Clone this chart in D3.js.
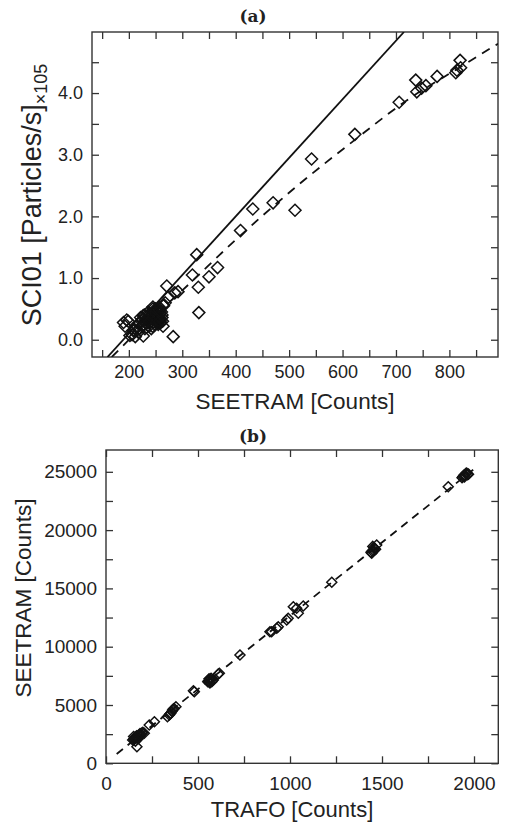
<!DOCTYPE html>
<html><head><meta charset="utf-8">
<script src="https://cdn.jsdelivr.net/npm/d3@7"></script>
<style>
body{margin:0;background:#fff;}
text{font-family:"Liberation Sans Narrow","Arial Narrow","Liberation Sans",sans-serif;fill:#222;}
</style></head><body>
<svg id="c" width="505" height="827"></svg>
<script>
// ---------- Panel (a) data ----------
const seetramA = [542,623,706,737,739,748,756,777,812,814,820,821,
  470,432,511,409,327,366,350,319,330,331,286,283,271,292,274,264,245,
  215,220,225,228,232,235,238,240,243,246,248,250,252,255,257,258,260,262,264,254,245,236,230,222,218,210,206,212,265,268,258,
  224,229,233,237,241,244,247,251,253,256,259,261,263,249,239,231,226,220,244,256,262,250,258,
  196,193,199,202,208,227,242,227,190];
const sci01A = [2.93,3.33,3.85,4.21,4.02,4.08,4.12,4.27,4.33,4.37,4.53,4.41,
  2.22,2.12,2.10,1.77,1.38,1.17,1.02,1.05,0.85,0.44,0.76,0.05,0.87,0.78,0.69,0.56,0.53,
  0.22,0.28,0.33,0.25,0.38,0.30,0.22,0.42,0.35,0.28,0.45,0.38,0.30,0.25,0.33,0.42,0.28,0.36,0.22,0.48,0.50,0.45,0.18,0.36,0.12,0.15,0.08,0.05,0.55,0.60,0.52,
  0.30,0.40,0.27,0.35,0.30,0.40,0.33,0.42,0.35,0.38,0.32,0.45,0.30,0.25,0.27,0.32,0.22,0.18,0.22,0.28,0.40,0.50,0.47,
  0.32,0.22,0.30,0.07,0.15,0.06,0.18,0.39,0.28];
const solidLineA = [[160,-0.28],[715,4.99]];
const dashedCurveA = [[168,-0.28],[230,0.25],[300,0.80],[400,1.62],[520,2.53],[620,3.22],[720,3.88],[820,4.42],[891,4.80]];
const xTicksA = [200,300,400,500,600,700,800];
const xMinorA = [150,250,350,450,550,650,750,850];
const yTicksA = [0,1,2,3,4];
const yMinorA = [0.5,1.5,2.5,3.5,4.5];

// ---------- Panel (b) data ----------
const trafoB = [145,154,160,168,172,181,190,200,208,175,235,263,334,344,352,362,370,380,475,480,553,560,565,571,575,583,610,616,728,891,900,928,936,982,990,1018,1036,1045,1072,1227,1444,1450,1453,1460,1471,1860,1935,1945,1951,1960,1970,
  150,158,163,166,170,178,185,195,160,150,185,
  556,562,568,578,560,
  1447,1456,1465,1440,
  1940,1955,1965,1948,
  348,358,366];
const seetramB = [1998,2144,2250,1424,2300,2427,2500,2650,2572,2100,3284,3568,3999,4142,4300,4571,4700,4854,6226,6141,6998,7100,6900,7290,7000,7144,7658,7718,9288,11286,11286,11578,11715,12289,12435,13430,13293,12864,13490,15523,18010,18600,18293,18400,18722,23721,24500,24700,24725,24900,24800,
  2050,2200,2150,2350,2250,2400,2350,2600,1900,2300,2550,
  7050,6950,7200,7100,7250,
  18200,18500,18350,18100,
  24600,24850,24750,24550,
  4250,4450,4650];
const dashedLineB = [[58,800],[2005,25300]];
const xTicksB = [0,500,1000,1500,2000];
const xMinorB = [250,750,1250,1750];
const yTicksB = [0,5000,10000,15000,20000,25000];
const yMinorB = [2500,7500,12500,17500,22500];

const svg = d3.select("#c");

function panel(cfg){
  const {x, y, id} = cfg;
  const g = svg.append("g");
  const [x0,x1] = x.range(), [y0,y1] = y.range();
  g.append("clipPath").attr("id", id).append("rect")
    .attr("x", x0).attr("y", y1).attr("width", x1-x0).attr("height", y0-y1);
  const allX = cfg.xMajor.concat(cfg.xMinor), allY = cfg.yMajor.concat(cfg.yMinor);
  const majX = new Set(cfg.xMajor), majY = new Set(cfg.yMajor);
  const styleAxis = sel => {
    sel.select(".domain").remove();
    sel.selectAll(".tick line").attr("stroke","#333").attr("stroke-width",1.3);
    sel.selectAll(".tick text").style("font-size", cfg.tickFont+"px").attr("fill","#222");
  };
  g.append("g").attr("transform",`translate(0,${y0})`)
    .call(d3.axisBottom(x).tickValues(allX).tickSize(-7).tickPadding(cfg.xPad)
      .tickFormat(d => majX.has(d) ? cfg.fx(d) : "")).call(styleAxis);
  g.append("g").attr("transform",`translate(0,${y1})`)
    .call(d3.axisTop(x).tickValues(allX).tickSize(-7).tickFormat("")).call(styleAxis);
  g.append("g").attr("transform",`translate(${x0},0)`)
    .call(d3.axisLeft(y).tickValues(allY).tickSize(-7).tickPadding(cfg.yPad)
      .tickFormat(d => majY.has(d) ? cfg.fy(d) : "")).call(styleAxis);
  g.append("g").attr("transform",`translate(${x1},0)`)
    .call(d3.axisRight(y).tickValues(allY).tickSize(-7).tickFormat("")).call(styleAxis);
  g.append("rect").attr("x",x0).attr("y",y1).attr("width",x1-x0).attr("height",y0-y1)
    .attr("fill","none").attr("stroke","#333").attr("stroke-width",1.4);
  const pg = g.append("g").attr("clip-path",`url(#${id})`);
  return pg;
}

function diamonds(pg, x, y, xs, ys, r){
  pg.append("g").selectAll("path").data(xs.map((v,i)=>[v,ys[i]])).join("path")
    .attr("transform", d=>`translate(${x(d[0])},${y(d[1])})`)
    .attr("d", `M0,${-r}L${r},0L0,${r}L${-r},0Z`)
    .attr("fill","none").attr("stroke","#111").attr("stroke-width",1.5);
}

// ---------- Panel (a) ----------
const xA = d3.scaleLinear().domain([131,891]).range([92,498]);
const yA = d3.scaleLinear().domain([-0.28,4.99]).range([357,32]);
const pA = panel({x:xA,y:yA,id:"clipA",xMajor:xTicksA,xMinor:xMinorA,yMajor:yTicksA,yMinor:yMinorA,
  fx:d=>String(d), fy:d3.format(".1f"), tickFont:18, xPad:8, yPad:9});
pA.append("path").datum(solidLineA).attr("d", d3.line().x(d=>xA(d[0])).y(d=>yA(d[1])))
  .attr("fill","none").attr("stroke","#111").attr("stroke-width",1.8);
pA.append("path").datum(dashedCurveA).attr("d", d3.line().curve(d3.curveMonotoneX).x(d=>xA(d[0])).y(d=>yA(d[1])))
  .attr("fill","none").attr("stroke","#111").attr("stroke-width",1.8).attr("stroke-dasharray","9,7");
diamonds(pA, xA, yA, seetramA, sci01A, 6);

svg.append("text").attr("x",253).attr("y",22).attr("text-anchor","middle")
  .style("font-family","'DejaVu Serif','Liberation Serif',serif").style("font-weight","bold").style("font-size","17px").text("(a)");
svg.append("text").attr("x",295).attr("y",409).attr("text-anchor","middle").style("font-size","22.5px").text("SEETRAM [Counts]");
const yt = svg.append("text").attr("transform","translate(41,195) rotate(-90)").attr("text-anchor","middle").style("font-size","27px");
yt.append("tspan").text("SCI01 [Particles/s]");
yt.append("tspan").attr("dy",6).style("font-size","18px").text("×10");
yt.append("tspan").attr("dy",0).style("font-size","18px").text("5");

// ---------- Panel (b) ----------
const xB = d3.scaleLinear().domain([0,2132]).range([106,498.3]);
const yB = d3.scaleLinear().domain([0,26870]).range([763.3,450]);
const pB = panel({x:xB,y:yB,id:"clipB",xMajor:xTicksB,xMinor:xMinorB,yMajor:yTicksB,yMinor:yMinorB,
  fx:d=>String(d), fy:d=>String(d), tickFont:19, xPad:13, yPad:9});
pB.append("path").datum(dashedLineB).attr("d", d3.line().x(d=>xB(d[0])).y(d=>yB(d[1])))
  .attr("fill","none").attr("stroke","#111").attr("stroke-width",1.8).attr("stroke-dasharray","8,6");
diamonds(pB, xB, yB, trafoB, seetramB, 5);

svg.append("text").attr("x",253).attr("y",442).attr("text-anchor","middle")
  .style("font-family","'DejaVu Serif','Liberation Serif',serif").style("font-weight","bold").style("font-size","17px").text("(b)");
svg.append("text").attr("x",292).attr("y",817).attr("text-anchor","middle").style("font-size","22px").text("TRAFO [Counts]");
svg.append("text").attr("transform","translate(31,598) rotate(-90)").attr("text-anchor","middle").style("font-size","22.5px").text("SEETRAM [Counts]");
</script>
</body></html>
